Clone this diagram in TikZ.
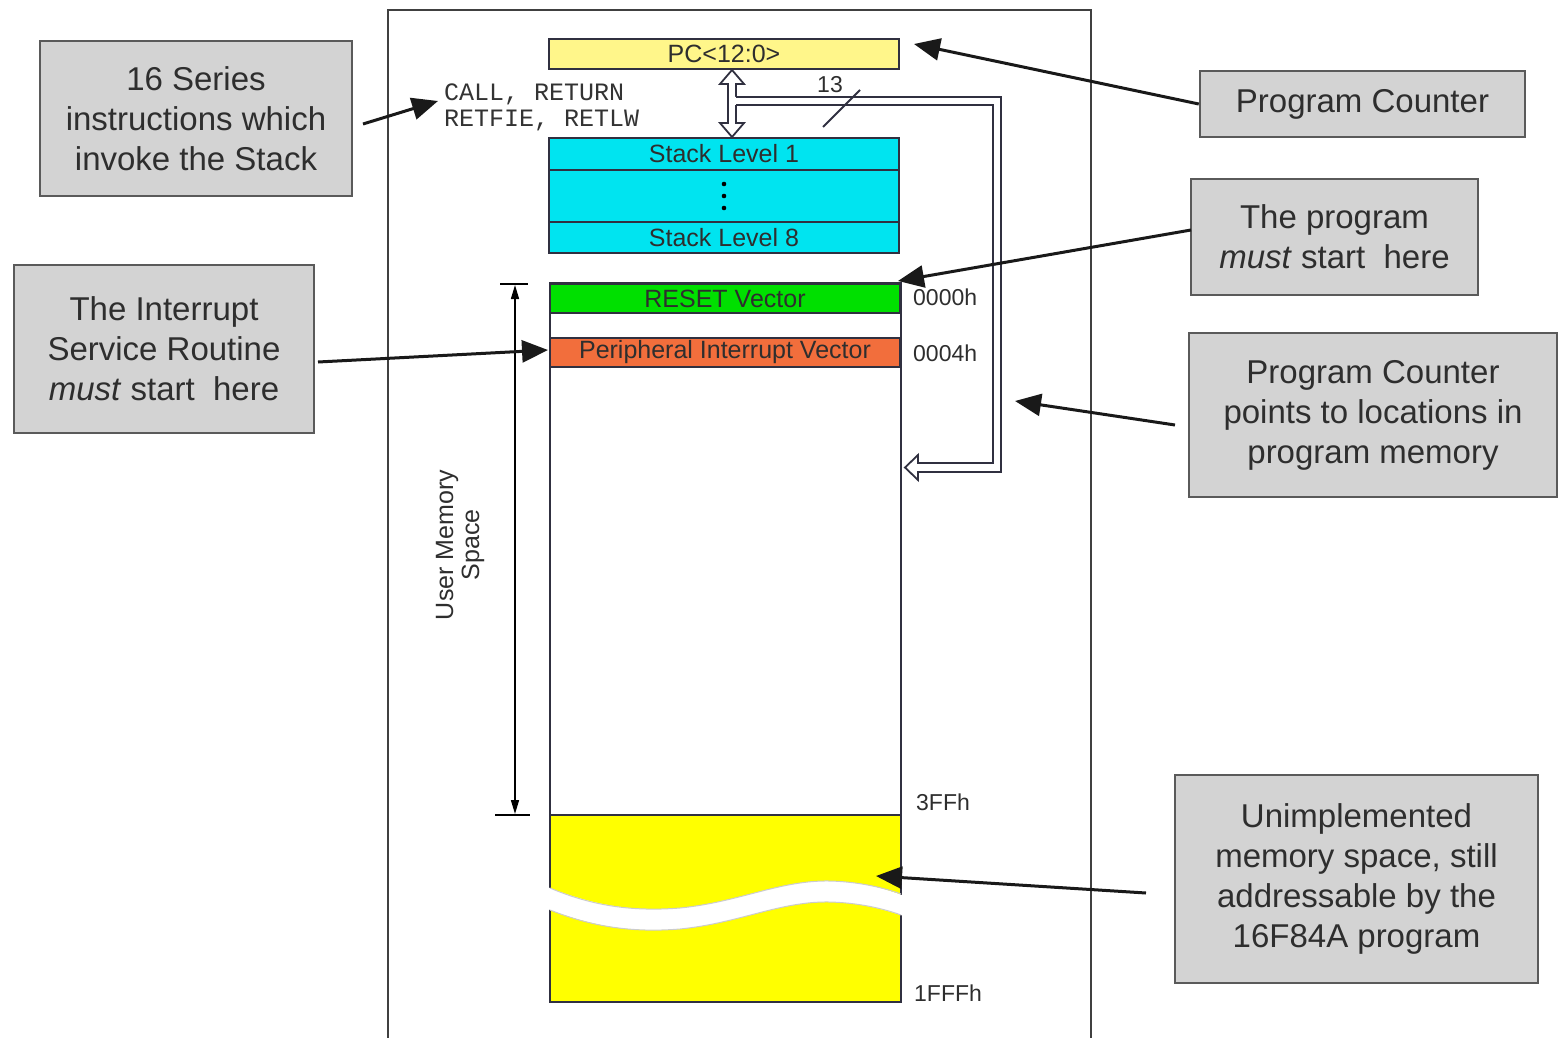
\documentclass[tikz,border=0pt]{standalone}
\usepackage{fontspec}
\setmainfont{Liberation Sans}
\newfontfamily\monof{Liberation Mono}
\usetikzlibrary{arrows.meta}
\definecolor{boxfill}{HTML}{D3D3D3}
\definecolor{boxedge}{HTML}{5A5A5A}
\definecolor{txt}{HTML}{2E2E2E}
\definecolor{pcyel}{HTML}{FFF68A}
\definecolor{stackcyan}{HTML}{00E4F0}
\definecolor{resetgreen}{HTML}{00E000}
\definecolor{periorange}{HTML}{F26E3C}
\definecolor{unimpyel}{HTML}{FFFF00}
\definecolor{memline}{HTML}{303040}
\begin{document}
\begin{tikzpicture}[x=1pt,y=-1pt,
  gbox/.style={draw=boxedge, fill=boxfill, line width=2.5pt, align=center, text=txt,
    font=\fontsize{33}{40}\selectfont, inner sep=0pt},
  arr/.style={line width=3pt, draw=black!90, -{Triangle[length=26pt,width=22pt]}},
  cell/.style={draw=memline, line width=2pt, inner sep=0pt, minimum width=350pt,
    font=\fontsize{25}{27}\selectfont, text=txt},
  hexlbl/.style={anchor=west, inner sep=0pt, font=\fontsize{23}{25}\selectfont, text=txt},
  dimarr/.style={line width=1.5pt, {Triangle[length=14pt,width=8pt]}-{Triangle[length=14pt,width=8pt]}},
  hollow/.style={draw=memline, line width=1.8pt, fill=white, line join=miter}
]
\useasboundingbox (0,0) rectangle (1558,1038);

% outer frame
\draw[line width=2pt, draw=black!75] (388,1038) -- (388,10) -- (1091,10) -- (1091,1038);

% PC register
\node[cell, fill=pcyel, minimum height=30pt] (pc) at (724,54) {PC<12:0>};

% Stack
\node[cell, fill=stackcyan, minimum height=32pt] (s1) at (724,154) {Stack Level 1};
\node[cell, fill=stackcyan, minimum height=52pt] (smid) at (724,196) {};
\node[cell, fill=stackcyan, minimum height=31pt] (s8) at (724,237.5) {Stack Level 8};
\foreach \yy in {184,196,208} \fill[black] (724,\yy) circle (2.3pt);

% hollow double arrow between PC and stack
\draw[hollow] (732,70) -- (744,84) -- (736,84) -- (736,123) -- (744,123) -- (732,137)
  -- (720,123) -- (728,123) -- (728,84) -- (720,84) -- cycle;
% bus to program memory
\fill[white] (735,97) -- (1001,97) -- (1001,472) -- (918,472) -- (918,480) -- (905,467.5)
  -- (918,455) -- (918,463) -- (993,463) -- (993,105) -- (735,105) -- cycle;
\draw[draw=memline, line width=1.8pt, line join=miter] (736,97) -- (1001,97) -- (1001,472)
  -- (918,472) -- (918,480) -- (905,467.5) -- (918,455) -- (918,463) -- (993,463)
  -- (993,105) -- (736,105);
% bus width marker
\draw[line width=1.8pt, draw=memline] (823,127) -- (860,90);
\node[inner sep=0pt, font=\fontsize{23}{25}\selectfont, text=txt] (n13) at (830,85) {13};

% instruction names
\node[anchor=west, align=left, inner sep=0pt, font=\monof\fontsize{25}{26}\selectfont, text=black!80] (instr) at (444,107)
  {CALL, RETURN\\RETFIE, RETLW};

% program memory
\node[draw=memline, line width=2pt, fill=white, minimum width=351pt, minimum height=719pt, inner sep=0pt] (mem) at (725.5,642.5) {};
\fill[unimpyel] (551,816) rectangle (900,1001);
\draw[draw=memline, line width=2pt] (550,815) -- (901,815);
% break in the unimplemented region
\fill[white] (540,884) .. controls (590,905) and (630,912) .. (680,908)
  .. controls (740,902) and (780,880) .. (830,881)
  .. controls (865,882) and (890,890) .. (912,899)
  -- (912,919) .. controls (890,911) and (865,903) .. (830,902)
  .. controls (780,901) and (740,923) .. (680,929)
  .. controls (630,933) and (590,926) .. (540,906) -- cycle;
\draw[black!20, line width=1pt] (550,888) .. controls (590,905) and (630,912) .. (680,908)
  .. controls (740,902) and (780,880) .. (830,881)
  .. controls (865,882) and (890,890) .. (901,894);
\draw[black!20, line width=1pt] (901,915) .. controls (890,911) and (865,903) .. (830,902)
  .. controls (780,901) and (740,923) .. (680,929)
  .. controls (630,933) and (590,926) .. (550,910);

\node[cell, fill=resetgreen, minimum height=29pt] (reset) at (725,298.5) {RESET Vector};
\node[cell, fill=periorange, minimum height=29pt] (peri) at (725,352.5) {Peripheral Interrupt Vector};

% addresses
\node[hexlbl] (a0) at (913,297) {0000h};
\node[hexlbl] (a4) at (913,353) {0004h};
\node[hexlbl] (a3ff) at (916,802) {3FFh};
\node[hexlbl] (a1fff) at (914,993) {1FFFh};

% user memory space dimension
\coordinate (dimTop) at (515,285);
\coordinate (dimBot) at (515,814);
\draw[line width=1.8pt] (500,284) -- (528,284);
\draw[line width=1.8pt] (495,815) -- (530,815);
\draw[dimarr] (dimTop) -- (dimBot);
\node[rotate=90, align=center, inner sep=0pt, font=\fontsize{25}{26}\selectfont, text=txt] (ums) at (460,545) {User Memory\\Space};

% callout boxes
\node[gbox, minimum width=312pt, minimum height=155pt] (b1) at (196,118.5) {16 Series\\instructions which\\invoke the Stack};
\node[gbox, minimum width=300pt, minimum height=168pt] (b2) at (164,349) {The Interrupt\\Service Routine\\\textit{must} start\ \ here};
\node[gbox, minimum width=325pt, minimum height=66pt] (b3) at (1362.5,104) {Program Counter};
\node[gbox, minimum width=287pt, minimum height=116pt] (b4) at (1334.5,237) {The program\\\textit{must} start\ \ here};
\node[gbox, minimum width=368pt, minimum height=164pt] (b5) at (1373,415) {Program Counter\\points to locations in\\program memory};
\node[gbox, minimum width=363pt, minimum height=208pt] (b6) at (1356.5,879) {Unimplemented\\memory space, still\\addressable by the\\16F84A program};

% arrow endpoints
\coordinate (t1s) at (363,124);
\coordinate (t1e) at (438,101);
\coordinate (t2s) at (318,362);
\coordinate (t2e) at (548,350);
\coordinate (t3e) at (914,44);
\coordinate (t4s) at (1191,230);
\coordinate (t4e) at (898,281);
\coordinate (t5s) at (1175,425);
\coordinate (t5e) at (1015,401);
\coordinate (t6s) at (1146,893);
\coordinate (t6e) at (876,876);

\draw[arr] (t1s) -- (t1e);
\draw[arr] (t2s) -- (t2e);
\draw[arr] (b3.west) -- (t3e);
\draw[arr] (t4s) -- (t4e);
\draw[arr] (t5s) -- (t5e);
\draw[arr] (t6s) -- (t6e);
\end{tikzpicture}
\end{document}
